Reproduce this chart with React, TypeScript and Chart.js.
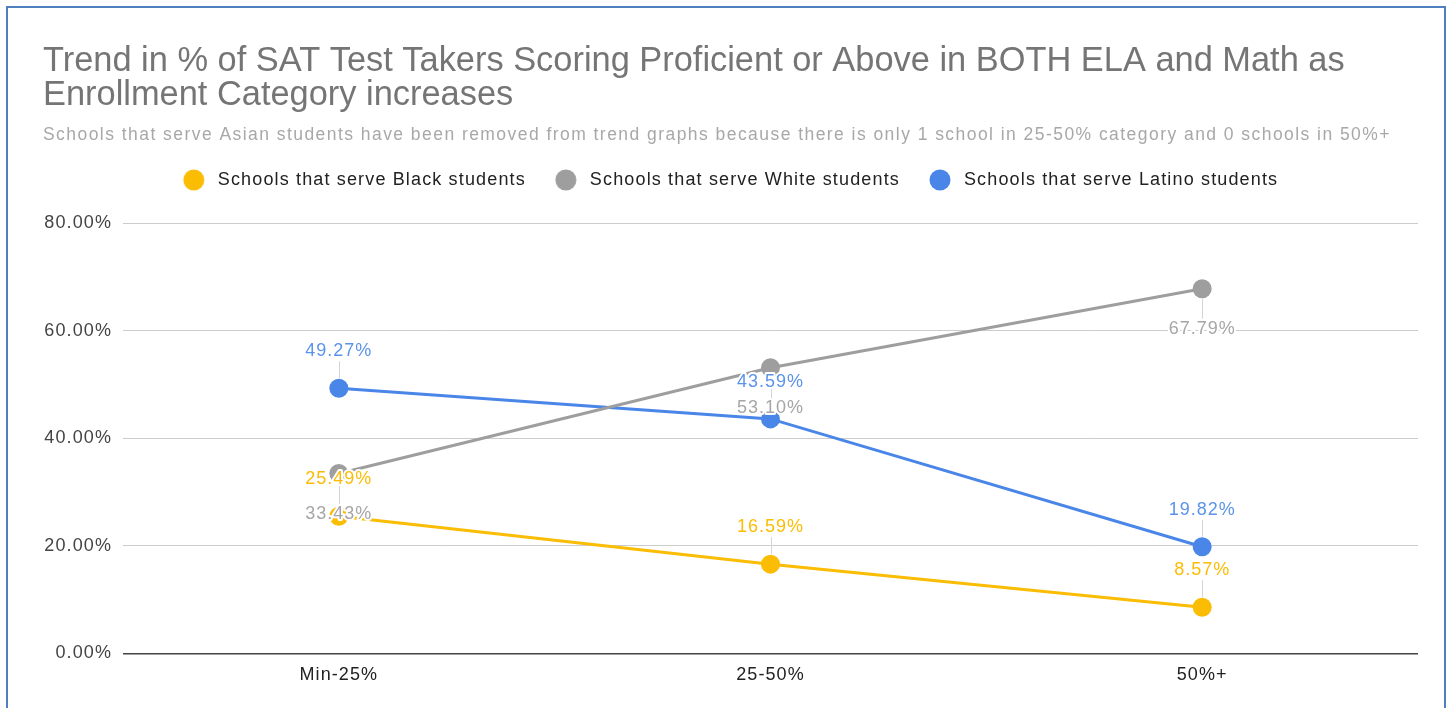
import React, { useEffect, useRef } from 'react';
import { Chart, registerables } from 'chart.js';

Chart.register(...registerables);

const categories = ['Min-25%', '25-50%', '50%+'];
const seriesNames = [
  'Schools that serve Black students',
  'Schools that serve White students',
  'Schools that serve Latino students',
];
const blackValues = [25.49, 16.59, 8.57];
const whiteValues = [33.43, 53.1, 67.79];
const latinoValues = [49.27, 43.59, 19.82];
const yTickValues = [0, 20, 40, 60, 80];
const titleLines = [
  'Trend in % of SAT Test Takers Scoring Proficient or Above in BOTH ELA and Math as',
  'Enrollment Category increases',
];
const subtitleText =
  'Schools that serve Asian students have been removed from trend graphs because there is only 1 school in 25-50% category and 0 schools in 50%+';
const labelPlacement = ['above', 'below', 'above'];

const seriesColors = ['#fbbc04', '#9e9e9e', '#4a86e8'];
const labelColors = ['#fbbc04', '#a6a6a6', '#5b93ea'];
const FONT = '"Liberation Sans", Arial, sans-serif';

function makeIcon(color: string) {
  const c = document.createElement('canvas');
  c.width = 40;
  c.height = 24;
  const g = c.getContext('2d')!;
  g.fillStyle = color;
  g.beginPath();
  g.arc(25, 12, 10.5, 0, Math.PI * 2);
  g.fill();
  return c;
}

function wrapBox(box: any, spacing: string, extraHeight: number, dx: number) {
  if (box.__wrapped) return;
  box.__wrapped = true;
  if (typeof box.update === 'function') {
    const origUpdate = box.update.bind(box);
    box.update = function (...args: any[]) {
      const ctx = box.ctx;
      const prev = ctx.letterSpacing;
      ctx.letterSpacing = spacing;
      const r = origUpdate(...args);
      ctx.letterSpacing = prev;
      box.height += extraHeight;
      return r;
    };
  }
  if (typeof box.draw === 'function') {
    const origDraw = box.draw.bind(box);
    box.draw = function (...args: any[]) {
      const ctx = box.ctx;
      const prev = ctx.letterSpacing;
      ctx.save();
      ctx.translate(dx, 0);
      ctx.letterSpacing = spacing;
      origDraw(...args);
      ctx.restore();
      ctx.letterSpacing = prev;
    };
  }
}

const spacingPlugin = {
  id: 'spacingPlugin',
  beforeLayout(chart: any) {
    chart.ctx.letterSpacing = '1.1px';
    chart.boxes.forEach((box: any) => {
      if (box === chart.titleBlock) wrapBox(box, '0px', 0, 0);
      else if (box === chart.legend) wrapBox(box, '1.15px', 24, -7);
      else if (box.options && box.options.text === subtitleText) wrapBox(box, '1.45px', 0, 0);
    });
  },
  beforeDraw(chart: any) {
    chart.ctx.letterSpacing = '1.1px';
  },
};

const pointLabelPlugin = {
  id: 'pointLabelPlugin',
  afterDatasetsDraw(chart: any) {
    const ctx = chart.ctx;
    chart.data.datasets.forEach((ds: any, i: number) => {
      const meta = chart.getDatasetMeta(i);
      meta.data.forEach((pt: any) => {
        const above = labelPlacement[i] === 'above';
        const cy = above ? pt.y - 37 : pt.y + 40;
        ctx.save();
        ctx.strokeStyle = '#d4d4d4';
        ctx.lineWidth = 1;
        const x = Math.round(pt.x) + 0.5;
        ctx.beginPath();
        if (above) {
          ctx.moveTo(x, pt.y - 10);
          ctx.lineTo(x, cy + 10);
        } else {
          ctx.moveTo(x, pt.y + 10);
          ctx.lineTo(x, cy - 10);
        }
        ctx.stroke();
        ctx.restore();
      });
    });
    chart.data.datasets.forEach((ds: any, i: number) => {
      const meta = chart.getDatasetMeta(i);
      meta.data.forEach((pt: any, j: number) => {
        const above = labelPlacement[i] === 'above';
        const cy = above ? pt.y - 37 : pt.y + 40;
        const text = Number(ds.data[j]).toFixed(2) + '%';
        ctx.save();
        ctx.letterSpacing = '1px';
        ctx.font = '18px ' + FONT;
        ctx.textAlign = 'center';
        ctx.textBaseline = 'middle';
        ctx.lineJoin = 'round';
        ctx.lineWidth = 4;
        ctx.strokeStyle = '#ffffff';
        ctx.strokeText(text, pt.x, cy);
        ctx.fillStyle = labelColors[i];
        ctx.fillText(text, pt.x, cy);
        ctx.restore();
      });
    });
  },
};

export default function App() {
  const ref = useRef<HTMLCanvasElement | null>(null);

  useEffect(() => {
    if (!ref.current) return;
    const icons = seriesColors.map(makeIcon);
    const values = [blackValues, whiteValues, latinoValues];
    const chart = new Chart(ref.current, {
      type: 'line',
      data: {
        labels: categories,
        datasets: seriesNames.map((name, i) => ({
          label: name,
          data: values[i],
          borderColor: seriesColors[i],
          backgroundColor: seriesColors[i],
          pointBackgroundColor: seriesColors[i],
          pointBorderWidth: 0,
          pointRadius: 9.5,
          pointHoverRadius: 9.5,
          borderWidth: 3,
          tension: 0,
          clip: false as any,
        })),
      },
      options: {
        responsive: false,
        animation: false,
        devicePixelRatio: 1,
        layout: { padding: { left: 43, right: 32, top: 0, bottom: 11 } },
        plugins: {
          title: {
            display: true,
            text: titleLines,
            align: 'start',
            color: '#757575',
            font: { family: FONT, size: 34.4, weight: 'normal', lineHeight: 34 / 34.4 },
            padding: { top: 45, bottom: 0 },
          },
          subtitle: {
            display: true,
            text: subtitleText,
            align: 'start',
            color: '#a8a8a8',
            font: { family: FONT, size: 17.5, weight: 'normal', lineHeight: 1.2 },
            padding: { top: 12, bottom: 10 },
          },
          legend: {
            display: true,
            position: 'top',
            labels: {
              usePointStyle: true,
              pointStyleWidth: 40,
              padding: 15,
              color: '#222222',
              font: { family: FONT, size: 18 },
              generateLabels: (c: any) => {
                const items = (Chart.defaults as any).plugins.legend.labels.generateLabels(c);
                return items.map((it: any, i: number) => ({ ...it, pointStyle: icons[i] }));
              },
            },
          },
          tooltip: { enabled: false },
        },
        scales: {
          x: {
            offset: true,
            grid: { display: false, drawTicks: false },
            border: { display: false },
            ticks: { color: '#222222', font: { family: FONT, size: 18 }, padding: 11 },
          },
          y: {
            min: 0,
            max: 80,
            afterFit: (s: any) => {
              s.width = 80;
            },
            afterBuildTicks: (s: any) => {
              s.ticks = yTickValues.map((v) => ({ value: v }));
            },
            grid: {
              drawTicks: false,
              color: (c: any) => (c.tick && c.tick.value === 0 ? '#444444' : '#cccccc'),
              lineWidth: (c: any) => (c.tick && c.tick.value === 0 ? 1.5 : 1),
            },
            border: { display: false },
            ticks: {
              color: '#444444',
              font: { family: FONT, size: 18 },
              padding: 11,
              callback: (v: any) => Number(v).toFixed(2) + '%',
            },
          },
        },
      },
      plugins: [spacingPlugin, pointLabelPlugin],
    });
    return () => chart.destroy();
  }, []);

  return (
    <div
      style={{
        position: 'absolute',
        left: 0,
        top: 0,
        width: 1450,
        height: 708,
        background: '#ffffff',
        overflow: 'hidden',
      }}
    >
      <canvas
        ref={ref}
        width={1450}
        height={708}
        style={{ position: 'absolute', left: 0, top: 0, width: 1450, height: 708 }}
      />
      <div
        style={{
          position: 'absolute',
          left: 6,
          top: 6,
          width: 1440,
          height: 720,
          border: '2px solid #4f7fbe',
          boxSizing: 'border-box',
          pointerEvents: 'none',
        }}
      />
    </div>
  );
}
